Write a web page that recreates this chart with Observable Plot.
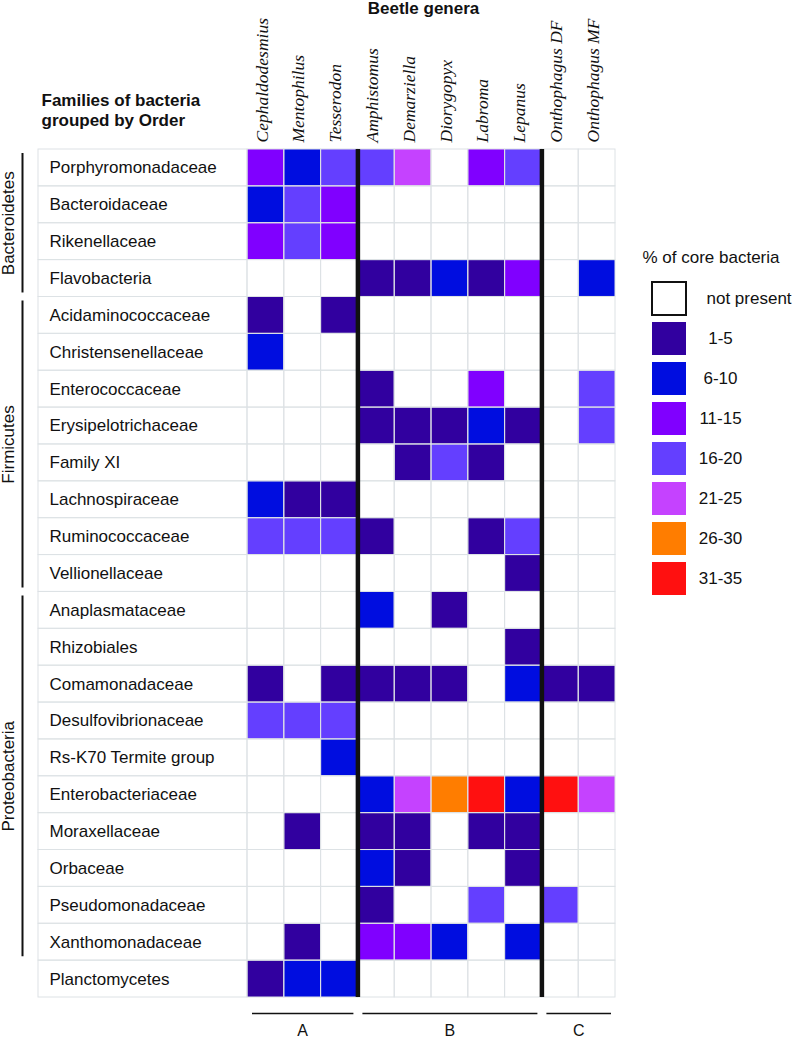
<!DOCTYPE html>
<html>
<head>
<meta charset="utf-8">
<script src="https://cdn.jsdelivr.net/npm/d3@7"></script>
<script src="https://cdn.jsdelivr.net/npm/@observablehq/plot@0.6"></script>
<style>
  html, body { margin: 0; padding: 0; background: #fff; overflow: hidden; }
  #wrap { position: relative; width: 792px; height: 1039px; }
  #chart { position: absolute; left: 0; top: 0; }
  #legend { position: absolute; left: 630px; top: 235px; }
  svg { overflow: visible; }
</style>
</head>
<body>
<div id="wrap"><div id="chart"></div><div id="legend"></div></div>
<script>
// ---------------- data ----------------
const genera = ["Cephaldodesmius", "Mentophilus", "Tesserodon", "Amphistomus", "Demarziella",
  "Diorygopyx", "Labroma", "Lepanus", "Onthophagus DF", "Onthophagus MF"];

const families = ["Porphyromonadaceae", "Bacteroidaceae", "Rikenellaceae", "Flavobacteria",
  "Acidaminococcaceae", "Christensenellaceae", "Enterococcaceae", "Erysipelotrichaceae",
  "Family XI", "Lachnospiraceae", "Ruminococcaceae", "Vellionellaceae", "Anaplasmataceae",
  "Rhizobiales", "Comamonadaceae", "Desulfovibrionaceae", "Rs-K70 Termite group",
  "Enterobacteriaceae", "Moraxellaceae", "Orbaceae", "Pseudomonadaceae", "Xanthomonadaceae",
  "Planctomycetes"];

const categories = ["not present", "1-5", "6-10", "11-15", "16-20", "21-25", "26-30", "31-35"];
const categoryColors = ["#ffffff", "#31009f", "#000de0", "#8000ff", "#643fff", "#c542ff", "#ff7d00", "#ff1010"];

// index into categories, one row per family, one column per genus
const abundance = [
  [3, 2, 4, 4, 5, 0, 3, 4, 0, 0], // Porphyromonadaceae
  [2, 4, 3, 0, 0, 0, 0, 0, 0, 0], // Bacteroidaceae
  [3, 4, 3, 0, 0, 0, 0, 0, 0, 0], // Rikenellaceae
  [0, 0, 0, 1, 1, 2, 1, 3, 0, 2], // Flavobacteria
  [1, 0, 1, 0, 0, 0, 0, 0, 0, 0], // Acidaminococcaceae
  [2, 0, 0, 0, 0, 0, 0, 0, 0, 0], // Christensenellaceae
  [0, 0, 0, 1, 0, 0, 3, 0, 0, 4], // Enterococcaceae
  [0, 0, 0, 1, 1, 1, 2, 1, 0, 4], // Erysipelotrichaceae
  [0, 0, 0, 0, 1, 4, 1, 0, 0, 0], // Family XI
  [2, 1, 1, 0, 0, 0, 0, 0, 0, 0], // Lachnospiraceae
  [4, 4, 4, 1, 0, 0, 1, 4, 0, 0], // Ruminococcaceae
  [0, 0, 0, 0, 0, 0, 0, 1, 0, 0], // Vellionellaceae
  [0, 0, 0, 2, 0, 1, 0, 0, 0, 0], // Anaplasmataceae
  [0, 0, 0, 0, 0, 0, 0, 1, 0, 0], // Rhizobiales
  [1, 0, 1, 1, 1, 1, 0, 2, 1, 1], // Comamonadaceae
  [4, 4, 4, 0, 0, 0, 0, 0, 0, 0], // Desulfovibrionaceae
  [0, 0, 2, 0, 0, 0, 0, 0, 0, 0], // Rs-K70 Termite group
  [0, 0, 0, 2, 5, 6, 7, 2, 7, 5], // Enterobacteriaceae
  [0, 1, 0, 1, 1, 0, 1, 1, 0, 0], // Moraxellaceae
  [0, 0, 0, 2, 1, 0, 0, 1, 0, 0], // Orbaceae
  [0, 0, 0, 1, 0, 0, 4, 0, 4, 0], // Pseudomonadaceae
  [0, 1, 0, 3, 3, 2, 0, 2, 0, 0], // Xanthomonadaceae
  [1, 2, 2, 0, 0, 0, 0, 0, 0, 0]  // Planctomycetes
];

const orderNames = ["Bacteroidetes", "Firmicutes", "Proteobacteria"];
const orderFirst = ["Porphyromonadaceae", "Acidaminococcaceae", "Anaplasmataceae"];
const orderLast = ["Flavobacteria", "Vellionellaceae", "Xanthomonadaceae"];

const groupNames = ["A", "B", "C"];
const groupFirst = ["Cephaldodesmius", "Amphistomus", "Onthophagus DF"];
const groupLast = ["Tesserodon", "Lepanus", "Onthophagus MF"];
const groupDividers = ["Amphistomus", "Onthophagus DF"]; // thick line before these genera

// ---------------- derived tables ----------------
const cells = families.flatMap((f, r) => genera.map((g, c) => ({
  family: f, genus: g, row: r, col: c, cat: categories[abundance[r][c]]
})));
const orders = orderNames.map((n, i) => ({
  name: n, r0: families.indexOf(orderFirst[i]), r1: families.indexOf(orderLast[i]) + 1
}));
const groups = groupNames.map((n, i) => ({
  name: n, c0: genera.indexOf(groupFirst[i]), c1: genera.indexOf(groupLast[i]) + 1
}));
const dividers = groupDividers.map(g => genera.indexOf(g));

const font = "'Liberation Sans', Arial, Helvetica, sans-serif";
const gridColor = "#dde2e5";
const labelCols = 209 / 36.8; // width of the label column in cell units
const nR = families.length, nC = genera.length;

const chart = Plot.plot({
  width: 792,
  height: 1062,
  marginTop: 149,
  marginBottom: 65,
  marginLeft: 38,
  marginRight: 177,
  style: { fontFamily: font, background: "white" },
  x: { domain: [-labelCols, nC], axis: null },
  y: { domain: [0, nR], reverse: true, axis: null },
  color: { type: "ordinal", domain: categories, range: categoryColors },
  marks: [
    Plot.rect(cells, { x1: "col", x2: d => d.col + 1, y1: "row", y2: d => d.row + 1, fill: "cat" }),
    Plot.rect(cells, { x1: "col", x2: d => d.col + 1, y1: "row", y2: d => d.row + 1, fill: "none", stroke: gridColor, strokeWidth: 1 }),
    Plot.rect(families, { x1: -labelCols, x2: 0, y1: (d, i) => i, y2: (d, i) => i + 1, fill: "none", stroke: gridColor, strokeWidth: 1 }),
    Plot.ruleX(dividers, { x: d => d, y1: 0, y2: nR, stroke: "#111", strokeWidth: 4.5 }),
    // row labels
    Plot.text(families, { x: -labelCols, y: (d, i) => i + 0.5, text: d => d, dx: 11, textAnchor: "start", fontSize: 17, fill: "#111" }),
    // column labels
    Plot.text(genera, { x: (d, i) => i + 0.5, y: 0, text: d => d, dx: -4, dy: -7, rotate: -90, textAnchor: "start",
      fontSize: 17.5, fontStyle: "italic", fontFamily: "'Liberation Serif', 'Times New Roman', serif", fill: "#111" }),
    // order groups
    Plot.ruleX(orders, { x: -labelCols, dx: -16, y1: "r0", y2: "r1", insetTop: 4, insetBottom: 4, stroke: "#111", strokeWidth: 2 }),
    Plot.text(orders, { x: -labelCols, y: d => (d.r0 + d.r1) / 2, text: "name", dx: -30, rotate: -90, fontSize: 17, fill: "#111" }),
    // beetle groups
    Plot.ruleY(groups, { y: nR, dy: 16, x1: "c0", x2: "c1", insetLeft: 5, insetRight: 4, stroke: "#111", strokeWidth: 1.5 }),
    Plot.text(groups, { x: d => (d.c0 + d.c1) / 2, y: nR, text: "name", dy: 33, fontSize: 16, fill: "#111" }),
    // headers
    Plot.text(["Beetle genera"], { x: nC / 2, y: 0, dx: -8, dy: -140.5, text: d => d, fontSize: 17, fontWeight: "bold", fill: "#111" }),
    Plot.text(["Families of bacteria\ngrouped by Order"], { x: -labelCols, y: 0, dx: 3, dy: -40, text: d => d,
      textAnchor: "start", lineHeight: 1.18, fontSize: 17, fontWeight: "bold", fill: "#111" })
  ]
});
document.getElementById("chart").appendChild(chart);

// ---------------- legend ----------------
const legendItems = categories.slice(1);
const legend = Plot.plot({
  width: 162,
  height: 367,
  marginTop: 45,
  marginBottom: 5.5,
  marginLeft: 22,
  marginRight: 0,
  style: { fontFamily: font, background: "transparent" },
  x: { domain: [0, 1], range: [22, 56], axis: null },
  y: { type: "band", domain: categories, paddingInner: 0.185, paddingOuter: 0, axis: null },
  color: { type: "ordinal", domain: categories, range: categoryColors },
  marks: [
    Plot.barX(categories, { x1: 0, x2: 1, y: d => d, fill: d => d, stroke: d => d === "not present" ? "#111" : "none", strokeWidth: 2 }),
    Plot.text(["not present"], { x: 1, y: d => d, text: d => d, dx: 20, textAnchor: "start", fontSize: 17, fill: "#111" }),
    Plot.text(legendItems, { x: 1, y: d => d, text: d => d, dx: 34, textAnchor: "middle", fontSize: 17, fill: "#111" }),
    Plot.text(["% of core bacteria"], { frameAnchor: "top-left", dx: -10, dy: -30, text: d => d, textAnchor: "start", fontSize: 17, fill: "#111" })
  ]
});
document.getElementById("legend").appendChild(legend);
</script>
</body>
</html>
